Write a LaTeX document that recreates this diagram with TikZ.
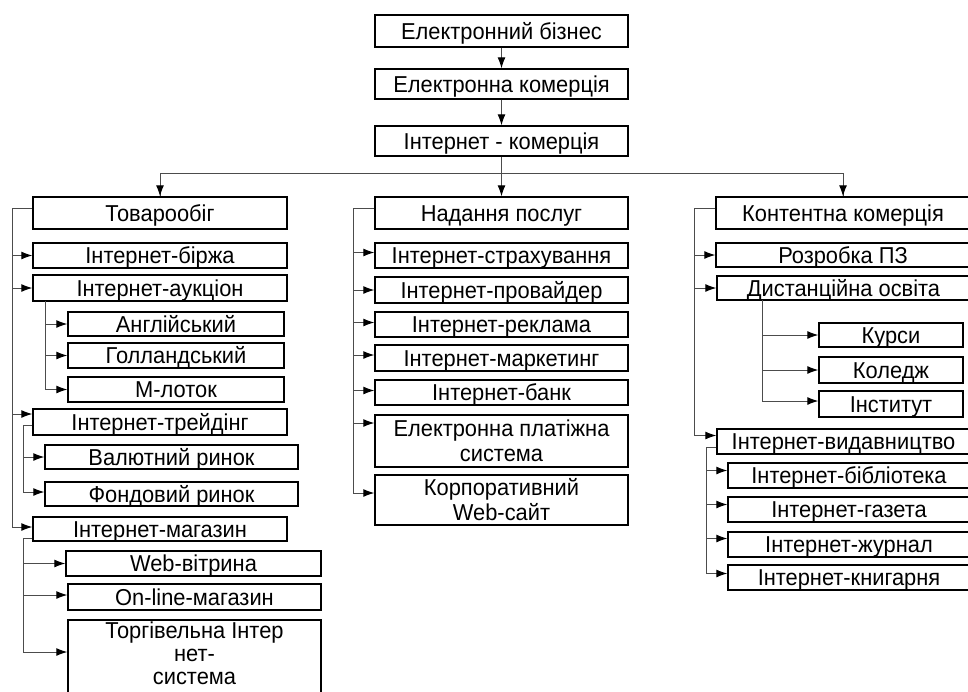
\documentclass[tikz,border=0pt]{standalone}
\usepackage{fontspec}
\setmainfont{Liberation Sans}[FakeStretch=0.95]
\usetikzlibrary{arrows.meta}
\tikzset{
  bx/.style={draw=black,line width=1.4pt,inner sep=0pt,text height=16.5pt,text depth=0pt,font=\fontsize{23}{25}\selectfont},
  mbx/.style={draw=black,line width=1.4pt,inner sep=0pt,align=center,font=\fontsize{23}{25}\selectfont},
  conn/.style={draw=black!70,line width=1pt},
  arr/.style={conn,-{Latex[length=11pt,width=8pt,color=black]}},
}
\newcommand\placebox[7]{%
  \node[#1,minimum width={((#5)-(#3))*1pt},minimum height={((#6)-(#4))*1pt}] (#2) at ({((#3)+(#5))/2},{((#4)+(#6))/2}) {#7};}
\begin{document}
\begin{tikzpicture}[x=1pt,y=-1pt]
\useasboundingbox (0,0) rectangle (968,691);
\clip (0,0) rectangle (968,691);
% top
\placebox{bx}{eb}{375}{15}{628}{47}{Електронний бізнес}
\placebox{bx}{ek}{375}{69}{628}{99}{Електронна комерція}
\placebox{bx}{ik}{375}{126}{628}{156}{Інтернет - комерція}
% column 1
\placebox{bx}{tov}{33}{197}{287}{229}{Товарообіг}
\placebox{bx}{ib}{33}{243}{287}{268}{Інтернет-біржа}
\placebox{bx}{auk}{33}{275}{287}{301}{Інтернет-аукціон}
\placebox{bx}{ang}{68}{312}{284}{336}{Англійський}
\placebox{bx}{gol}{68}{343}{284}{368}{Голландський}
\placebox{bx}{mlt}{68}{377}{284}{402}{М-лоток}
\placebox{bx}{trd}{33}{409}{287}{435}{Інтернет-трейдінг}
\placebox{bx}{val}{45}{445}{298}{469}{Валютний ринок}
\placebox{bx}{fond}{45}{482}{298}{506}{Фондовий ринок}
\placebox{bx}{mag}{33}{517}{287}{541}{Інтернет-магазин}
\placebox{bx}{web}{66}{551}{321}{576}{Web-вітрина}
\placebox{bx}{onl}{68}{584}{321}{610}{On-line-магазин}
\placebox{bx}{trg}{68}{620}{321}{700}{}
\node[mbx,draw=none,font=\fontsize{23}{23}\selectfont] (trgtext) at (194.5,653) {Торгівельна Інтер\\нет-\\система};
% column 2
\placebox{bx}{nad}{375}{197}{628}{229}{Надання послуг}
\placebox{bx}{str}{375}{243}{628}{268}{Інтернет-страхування}
\placebox{bx}{prv}{375}{277}{628}{303}{Інтернет-провайдер}
\placebox{bx}{rek}{375}{312}{628}{337}{Інтернет-реклама}
\placebox{bx}{mrk}{375}{345}{628}{371}{Інтернет-маркетинг}
\placebox{bx}{bnk}{375}{380}{628}{405}{Інтернет-банк}
\placebox{mbx}{eps}{375}{415}{628}{467}{Електронна платіжна\\система}
\placebox{mbx}{korp}{375}{475}{628}{525}{Корпоративний\\Web-сайт}
% column 3
\placebox{bx}{kon}{716}{197}{970}{229}{Контентна комерція}
\placebox{bx}{rpz}{716}{243}{970}{267}{Розробка ПЗ}
\placebox{bx}{dist}{717}{276}{970}{300}{Дистанційна освіта}
\placebox{bx}{kurs}{819}{323}{963}{347}{Курси}
\placebox{bx}{kol}{819}{357}{963}{383}{Коледж}
\placebox{bx}{inst}{819}{391}{963}{417}{Інститут}
\placebox{bx}{vyd}{717}{429}{970}{454}{Інтернет-видавництво}
\placebox{bx}{bib}{728}{463}{970}{488}{Інтернет-бібліотека}
\placebox{bx}{gaz}{728}{497}{970}{522}{Інтернет-газета}
\placebox{bx}{zhur}{728}{532}{970}{557}{Інтернет-журнал}
\placebox{bx}{kn}{728}{565}{970}{590}{Інтернет-книгарня}
% top connectors
\draw[arr] (eb) -- (ek);
\draw[arr] (ek) -- (ik);
\coordinate (hub) at (501.5,173);
\draw[conn] (ik.south) -- (hub);
\draw[conn] (hub) -| (tov.north);
\draw[conn] (hub) -| (kon.north);
\draw[arr] (hub -| tov.north) -- (tov.north);
\draw[arr] (hub) -- (nad.north);
\draw[arr] (hub -| kon.north) -- (kon.north);
% column 1
\coordinate (t1) at (12,208);
\draw[conn] (tov.west |- t1) -- (t1);
\draw[arr] (t1) |- (ib.west);
\draw[arr] (t1) |- (auk.west);
\draw[arr] (t1) |- ([yshift=8pt]trd.west);
\draw[arr] (t1) |- ([yshift=2pt]mag.west);
\coordinate (a1) at (45,301);
\draw[arr] (a1) |- (ang.west);
\draw[arr] (a1) |- (gol.west);
\draw[arr] (a1) |- (mlt.west);
\coordinate (t2) at (23,425);
\draw[conn] (trd.west |- t2) -- (t2);
\draw[arr] (t2) |- (val.west);
\draw[arr] (t2) |- ([yshift=2pt]fond.west);
\coordinate (m2) at (23,538);
\draw[conn] (mag.west |- m2) -- (m2);
\draw[arr] (m2) |- (web.west);
\draw[arr] (m2) |- ([yshift=2pt]onl.west);
\draw[arr] (m2) |- ([yshift=8pt]trg.west);
% column 2
\coordinate (t3) at (353,208);
\draw[conn] (nad.west |- t3) -- (t3);
\draw[arr] (t3) |- ([yshift=3pt]str.west);
\draw[arr] (t3) |- (prv.west);
\draw[arr] (t3) |- ([yshift=2pt]rek.west);
\draw[arr] (t3) |- ([yshift=3pt]mrk.west);
\draw[arr] (t3) |- ([yshift=2pt]bnk.west);
\draw[arr] (t3) |- ([yshift=18pt]eps.west);
\draw[arr] (t3) |- ([yshift=7pt]korp.west);
% column 3
\coordinate (t4) at (694,208);
\draw[conn] (kon.west |- t4) -- (t4);
\draw[arr] (t4) |- (rpz.west);
\draw[arr] (t4) |- (dist.west);
\draw[arr] (t4) |- ([yshift=6pt]vyd.west);
\coordinate (d1) at (762,300);
\draw[arr] (d1) |- (kurs.west);
\draw[arr] (d1) |- (kol.west);
\draw[arr] (d1) |- ([yshift=3pt]inst.west);
\coordinate (v1) at (706,447);
\draw[conn] (vyd.west |- v1) -- (v1);
\draw[arr] (v1) |- ([yshift=5pt]bib.west);
\draw[arr] (v1) |- ([yshift=5pt]gaz.west);
\draw[arr] (v1) |- ([yshift=6pt]zhur.west);
\draw[arr] (v1) |- ([yshift=4pt]kn.west);
\end{tikzpicture}
\end{document}
